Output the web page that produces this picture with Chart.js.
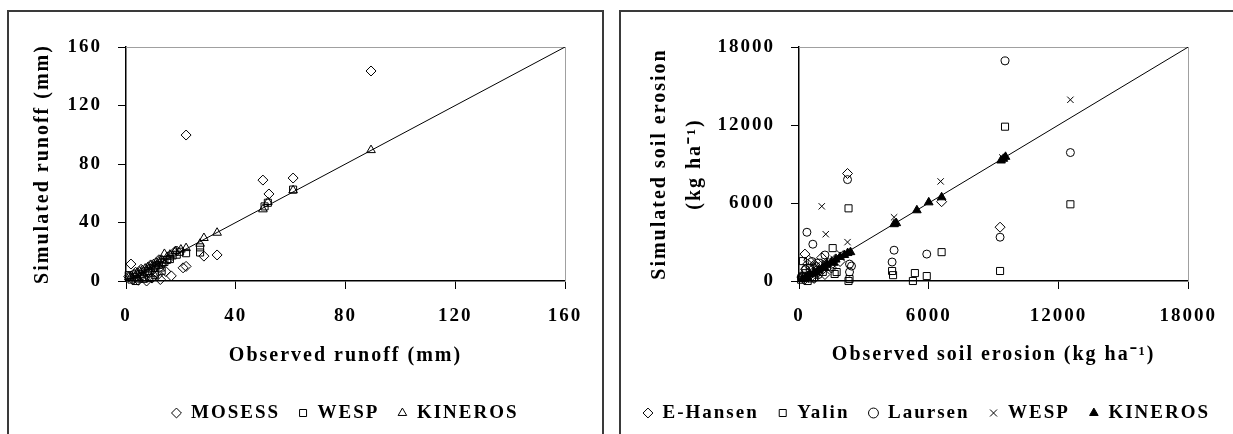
<!DOCTYPE html>
<html>
<head>
<meta charset="utf-8">
<script src="https://cdn.jsdelivr.net/npm/chart.js@4.4.1/dist/chart.umd.min.js"></script>
<style>
  body { margin: 0; background: #fff; width: 1233px; height: 434px; overflow: hidden; position: relative; }
  .panel { position: absolute; border: 2px solid #3a3a3a; box-sizing: border-box; }
  canvas { position: absolute; top: 0; }
</style>
</head>
<body>
<div class="panel" style="left:7px;top:10px;width:597px;height:440px"></div>
<div class="panel" style="left:619px;top:10px;width:640px;height:440px"></div>
<canvas id="runoff" width="690" height="434" style="left:0"></canvas>
<canvas id="erosion" width="613" height="434" style="left:620px"></canvas>
<script>
// runoff (mm): observed vs simulated
const mosessObs = [89.3, 21.9, 49.9, 60.9, 52.1, 33.2, 28.4, 21.9, 20.8, 1.8, 1.0, 2.5, 3.5, 4.5, 5.5, 6.5, 7.5, 8.5, 9.5, 10.5, 11.5, 12.5, 13.5, 14.5, 15.5, 16.5, 17.5, 18.5, 12.0, 9.0];
const mosessSim = [143.6, 99.8, 69.0, 70.4, 59.5, 17.8, 17.0, 10.0, 9.0, 11.6, 3.0, 1.0, 6.0, 0.5, 8.0, 3.0, 0.0, 5.5, 2.0, 9.5, 4.0, 1.0, 12.5, 6.5, 15.0, 3.5, 19.5, 20.5, 14.5, 11.0];
const wespRunObs = [60.9, 51.7, 50.5, 27.0, 27.0, 21.9, 19.7, 18.5, 17.0, 16.0, 15.0, 14.0, 13.0, 12.0, 11.0, 10.0, 9.0, 8.0, 7.0, 6.0, 5.0, 4.0, 3.0, 2.0, 1.0, 13.0, 10.5, 6.5, 3.5, 8.5];
const wespRunSim = [62.5, 53.5, 51.0, 23.0, 19.5, 19.0, 20.0, 18.0, 17.5, 15.0, 14.5, 13.0, 12.5, 11.0, 10.5, 9.0, 8.5, 7.0, 6.5, 5.0, 4.5, 3.0, 2.5, 1.0, 4.0, 7.0, 4.0, 1.5, 0.0, 2.0];
const kinRunObs = [89.3, 60.9, 51.7, 49.9, 33.2, 28.4, 27.0, 21.9, 20.0, 18.0, 16.0, 15.0, 14.0, 13.0, 12.0, 11.0, 10.0, 9.0, 8.0, 7.0, 6.0, 5.0, 4.0, 3.0, 2.0, 1.0, 10.0, 6.0, 12.5, 4.5];
const kinRunSim = [89.5, 62.0, 54.0, 49.0, 33.0, 29.4, 25.5, 22.5, 21.5, 20.5, 18.0, 16.5, 18.5, 14.5, 13.5, 12.5, 11.5, 10.5, 9.5, 8.5, 7.5, 6.5, 5.5, 4.5, 3.5, 2.5, 5.0, 2.0, 8.5, 1.0];

// soil erosion (kg/ha): observed vs simulated
const hansenObs = [2244, 9298, 6595, 150, 300, 450, 600, 750, 900, 1050, 1200, 1350, 1500, 1700, 1900, 250, 700, 1100, 400, 275];
const hansenSim = [8270, 4140, 6100, 300, 900, 1600, 400, 1200, 700, 1800, 500, 1400, 1000, 1700, 1500, 100, 200, 900, 1300, 2070];
const yalinObs = [9527, 12550, 9298, 2290, 4305, 4350, 5359, 5267, 5908, 6595, 2290, 2336, 1557, 1649, 1740, 180, 100, 300, 500, 700, 900, 1100, 1300, 400, 600, 200];
const yalinSim = [11870, 5900, 770, 5590, 770, 450, 610, 0, 380, 2220, 0, 150, 2530, 540, 690, 1530, 100, 600, 1000, 300, 1400, 700, 1100, 0, 200, 400];
const laursenObs = [9527, 12550, 2244, 9298, 4397, 4305, 5908, 2427, 366, 640, 2336, 2336, 100, 300, 600, 900, 1200, 1500, 800];
const laursenSim = [16930, 9880, 7800, 3370, 2370, 1460, 2070, 1150, 3750, 2830, 1300, 690, 300, 900, 1500, 500, 2000, 1300, 1100];
const wespEroObs = [1053, 6550, 12550, 1237, 2244, 4397, 9400, 200, 500, 800, 1200, 1600, 300, 700, 1900];
const wespEroSim = [5745, 7660, 13940, 3600, 2990, 4900, 9500, 300, 800, 1200, 1400, 1700, 100, 400, 2100];
const kinEroObs = [9344, 9450, 9550, 6595, 6000, 5450, 4397, 4500, 2382, 2250, 2100, 1900, 1700, 1500, 1300, 1100, 900, 700, 500, 300, 150, 400, 800, 1200, 1600];
const kinEroSim = [9270, 9400, 9550, 6440, 6050, 5440, 4370, 4450, 2220, 2150, 2000, 1850, 1650, 1450, 1300, 1050, 850, 700, 500, 300, 150, 250, 650, 1000, 1400];

const runoffTicks = { max: 160, step: 40 };
const erosionTicks = { max: 18000, step: 6000 };

Chart.defaults.font.family = "'Liberation Serif', 'Times New Roman', serif";
Chart.defaults.font.weight = 'bold';
Chart.defaults.color = '#000';

// the original text is printed with wide letter spacing
Chart.register({
  id: 'spacing',
  beforeUpdate(c) { c.ctx.letterSpacing = '2px'; },
  beforeDraw(c) { c.ctx.letterSpacing = '2px'; }
});

function pts(xs, ys) {
  return xs.map((x, i) => ({ x: x, y: ys[i] }));
}

function marker(label, xs, ys, style, fill, r) {
  return {
    label: label,
    data: pts(xs, ys),
    pointStyle: style,
    pointRadius: r || 5,
    pointHoverRadius: r || 5,
    borderWidth: 1,
    borderColor: '#000',
    backgroundColor: fill || 'rgba(0,0,0,0)',
    clip: false
  };
}

function drawPanel(id, sets, range, size, xTitle, yTitle) {
  const diag = {
    type: 'line',
    label: '1:1',
    data: [{ x: 0, y: 0 }, { x: range.max, y: range.max }],
    borderColor: '#000',
    borderWidth: 1,
    pointRadius: 0
  };
  const tickFmt = v => String(v);
  return new Chart(document.getElementById(id), {
    type: 'scatter',
    data: { datasets: sets.concat([diag]) },
    options: {
      responsive: false,
      animation: false,
      events: [],
      layout: { padding: { bottom: 1.5 } },
      plugins: {
        tooltip: { enabled: false },
        legend: {
          position: 'bottom',
          labels: {
            usePointStyle: true,
            boxWidth: 10,
            boxHeight: 7,
            padding: size.lp,
            font: { size: 19 },
            color: '#000',
            filter: item => item.text !== '1:1'
          }
        }
      },
      scales: {
        x: {
          type: 'linear', position: 'bottom', min: 0, max: range.max,
          ticks: { stepSize: range.step, padding: 16, font: { size: 19 }, callback: tickFmt },
          grid: { drawOnChartArea: false, tickLength: 8, color: '#000' },
          border: { color: '#000', width: 1.5 },
          title: { display: true, text: xTitle, font: { size: 20 }, padding: { top: 0, bottom: 17.5 } },
          afterFit: s => { s.height = size.xh; }
        },
        y: {
          type: 'linear', position: 'left', min: 0, max: range.max,
          ticks: { stepSize: range.step, padding: 16, font: { size: 19 }, callback: tickFmt },
          grid: { drawOnChartArea: false, tickLength: 8, color: '#000' },
          border: { color: '#000', width: 1.5 },
          title: { display: true, text: yTitle, font: { size: 20, lineHeight: size.lh }, padding: { top: size.tp, bottom: 0 } },
          afterFit: s => { s.width = size.yw; }
        },
        x2: {
          type: 'linear', position: 'top', min: 0, max: range.max,
          ticks: { display: false }, grid: { display: false },
          border: { color: '#a0a0a0', width: 1 },
          afterFit: s => { s.height = 47; }
        },
        y2: {
          type: 'linear', position: 'right', min: 0, max: range.max,
          ticks: { display: false }, grid: { display: false },
          border: { color: '#a0a0a0', width: 1 },
          afterFit: s => { s.width = size.rw; }
        }
      }
    }
  });
}

drawPanel('runoff', [
  marker('MOSESS', mosessObs, mosessSim, 'rectRot'),
  marker('WESP', wespRunObs, wespRunSim, 'rect'),
  marker('KINEROS', kinRunObs, kinRunSim, 'triangle')
], runoffTicks, { xh: 104.5, yw: 126, rw: 125, lh: 1.2, tp: 31, lp: 18 },
  'Observed runoff (mm)', 'Simulated runoff (mm)');

drawPanel('erosion', [
  marker('E-Hansen', hansenObs, hansenSim, 'rectRot'),
  marker('Yalin', yalinObs, yalinSim, 'rect'),
  marker('Laursen', laursenObs, laursenSim, 'circle', null, 4),
  marker('WESP', wespEroObs, wespEroSim, 'crossRot', null, 4.5),
  marker('KINEROS', kinEroObs, kinEroSim, 'triangle', '#000')
], erosionTicks, { xh: 103.5, yw: 179, rw: 41, lh: 1.75, tp: 22.5, lp: 19 },
  'Observed soil erosion (kg ha\u207B\u00B9)', ['Simulated soil erosion', '(kg ha\u207B\u00B9)']);
</script>
</body>
</html>
